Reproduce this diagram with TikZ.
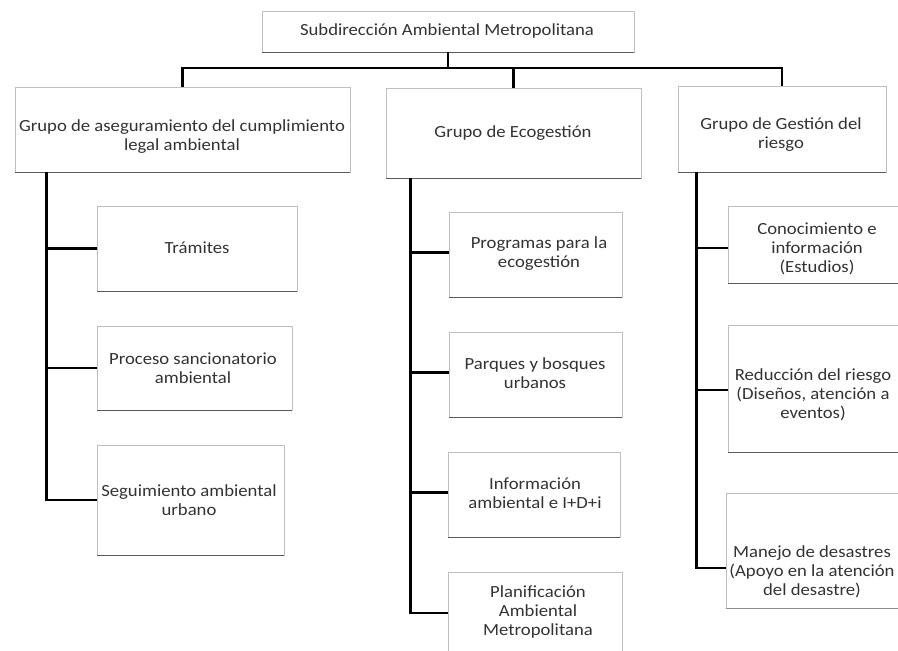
\documentclass[tikz,border=0pt]{standalone}
\usepackage{fontspec}
\setmainfont{Carlito}[FakeStretch=1.10]
\begin{document}
\begin{tikzpicture}[x=1pt,y=-1pt,
  box/.style={draw=gray!50, line width=0.5pt, fill=white, inner sep=0pt},
  bottomedge/.style={draw=black!65, line width=1.3pt},
  txt/.style={align=center, inner sep=0pt, font=\fontsize{17}{19}\selectfont, text=black!80},
  conn/.style={draw=black, line width=2.8pt}]
\useasboundingbox[fill=white] (0,0) rectangle (898,651);

% boxes
\node[box, minimum width=372pt, minimum height=41pt]  (top) at (448,31.5) {};
\node[box, minimum width=335pt, minimum height=85pt]  (g1) at (182.5,129.5) {};
\node[box, minimum width=255pt, minimum height=90pt]  (g2) at (513.5,133) {};
\node[box, minimum width=208pt, minimum height=86pt]  (g3) at (782,129) {};
\node[box, minimum width=200pt, minimum height=85pt]  (t1) at (197,248.5) {};
\node[box, minimum width=195pt, minimum height=84pt]  (t2) at (194.5,368) {};
\node[box, minimum width=187pt, minimum height=110pt] (t3) at (190.5,500) {};
\node[box, minimum width=173pt, minimum height=85pt]  (m1) at (535.5,254.5) {};
\node[box, minimum width=173pt, minimum height=85pt]  (m2) at (535.5,374.5) {};
\node[box, minimum width=172pt, minimum height=85pt]  (m3) at (534,494.5) {};
\node[box, minimum width=174pt, minimum height=82pt]  (m4) at (535,613) {};
\node[box, minimum width=176pt, minimum height=77pt]  (r1) at (816,244.5) {};
\node[box, minimum width=176pt, minimum height=127pt] (r2) at (816,388.5) {};
\node[box, minimum width=178pt, minimum height=115pt] (r3) at (815,550.5) {};

\foreach \n in {top,g1,g2,g3,t1,t2,t3,m1,m2,m3,r1,r2}
  \draw[bottomedge] (\n.south west) -- (\n.south east);
\draw[draw=black!45, line width=0.8pt] (r3.south west) -- (r3.south east);

% texts
\node[txt] (top-t) at (447,31) {Subdirección Ambiental Metropolitana};
\node[txt] (g1-t) at (182,136.5) {Grupo de aseguramiento del cumplimiento\\legal ambiental};
\node[txt] (g2-t) at (513,133) {Grupo de Ecogestión};
\node[txt] (g3-t) at (781,135) {Grupo de Gestión del\\riesgo};
\node[txt] (t1-t) at (197,248) {Trámites};
\node[txt] (t2-t) at (193,368) {Proceso sancionatorio\\ambiental};
\node[txt] (t3-t) at (189,500) {Seguimiento ambiental\\urbano};
\node[txt] (m1-t) at (539,254) {Programas para la\\ecogestión};
\node[txt] (m2-t) at (535,373) {Parques y bosques\\urbanos};
\node[txt] (m3-t) at (535,493) {Información\\ambiental e I+D+i};
\node[txt] (m4-t) at (538,612) {Planificación\\Ambiental\\Metropolitana};
\node[txt] (r1-t) at (817,249) {Conocimiento e\\información\\(Estudios)};
\node[txt] (r2-t) at (813,395) {Reducción del riesgo\\(Diseños, atención a\\eventos)};
\node[txt] (r3-t) at (812,572) {Manejo de desastres\\(Apoyo en la atención\\del desastre)};

% connectors: top level
\coordinate (bus) at (448,68);
\draw[conn] (top.south) -- (bus);
\draw[conn] (g1.north) |- (bus) -| (g3.north);
\draw[conn] (g2.north) -- (g2.north |- bus);

% spines
\coordinate (s1) at ([xshift=32pt]g1.south west);
\coordinate (s2) at ([xshift=25pt]g2.south west);
\coordinate (s3) at ([xshift=19pt]g3.south west);

\draw[conn] (s1) |- (t3.west);
\draw[conn] (t1.west) -- (t1.west -| s1);
\draw[conn] (t2.west) -- (t2.west -| s1);

\draw[conn] (s2) |- (m4.west);
\draw[conn] ([yshift=2pt]m1.west) -- ([yshift=2pt]m1.west -| s2);
\draw[conn] ([yshift=2pt]m2.west) -- ([yshift=2pt]m2.west -| s2);
\draw[conn] ([yshift=2pt]m3.west) -- ([yshift=2pt]m3.west -| s2);

\coordinate (r3c) at ([yshift=-17.5pt]r3.west);
\draw[conn] (s3) |- (r3c);
\draw[conn] ([yshift=-3.5pt]r1.west) -- ([yshift=-3.5pt]r1.west -| s3);
\draw[conn] ([yshift=-1.5pt]r2.west) -- ([yshift=-1.5pt]r2.west -| s3);
\end{tikzpicture}
\end{document}
